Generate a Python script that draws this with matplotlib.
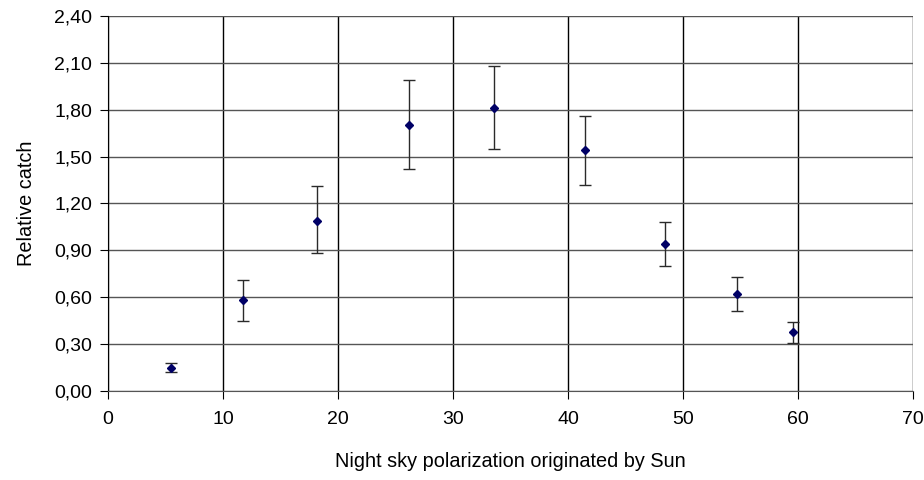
import matplotlib
matplotlib.use("Agg")
import matplotlib.pyplot as plt
from matplotlib.ticker import FuncFormatter

# Data
polarization = [5.5, 11.7, 18.2, 26.2, 33.6, 41.5, 48.4, 54.7, 59.6]
relative_catch = [0.15, 0.58, 1.09, 1.70, 1.81, 1.54, 0.94, 0.62, 0.38]
err_up = [0.03, 0.13, 0.22, 0.29, 0.27, 0.22, 0.14, 0.11, 0.06]
err_down = [0.03, 0.13, 0.21, 0.28, 0.26, 0.22, 0.14, 0.11, 0.07]

x_ticks = [0, 10, 20, 30, 40, 50, 60, 70]
y_ticks = [0.0, 0.3, 0.6, 0.9, 1.2, 1.5, 1.8, 2.1, 2.4]

plt.rcParams['font.family'] = ['Liberation Sans', 'DejaVu Sans']

fig = plt.figure(figsize=(9.24, 4.8), dpi=100)
ax = fig.add_axes([0.117, 0.1854, 0.871, 0.7813])

ax.errorbar(polarization, relative_catch, yerr=[err_down, err_up], fmt='D',
            color='#000066', markersize=4, ecolor='#2a2a2a', elinewidth=1.0,
            capsize=4, capthick=1.0, zorder=3)

ax.set_xlim(0, 70)
ax.set_ylim(0, 2.4)
ax.set_xticks(x_ticks)
ax.set_yticks(y_ticks)
ax.yaxis.set_major_formatter(FuncFormatter(lambda v, p: f"{v:.2f}".replace('.', ',')))
ax.xaxis.set_major_formatter(FuncFormatter(lambda v, p: f"{int(round(v))}"))

ax.grid(axis='x', color='black', linewidth=1.0, zorder=1)
ax.grid(axis='y', color='#555555', linewidth=1.0, zorder=1)

for s in ['top', 'right']:
    ax.spines[s].set_visible(False)
ax.spines['left'].set_color('black')
ax.spines['bottom'].set_color('#555555')

ax.tick_params(axis='both', labelsize=14, length=5.5, color='black', direction='out')
ax.tick_params(axis='x', pad=9)
ax.tick_params(axis='y', pad=6)

ax.set_xlabel('Night sky polarization originated by Sun', fontsize=14.3, labelpad=17)
ax.set_ylabel('Relative catch', fontsize=14.3, labelpad=13)

fig.savefig('out.png', dpi=100)
